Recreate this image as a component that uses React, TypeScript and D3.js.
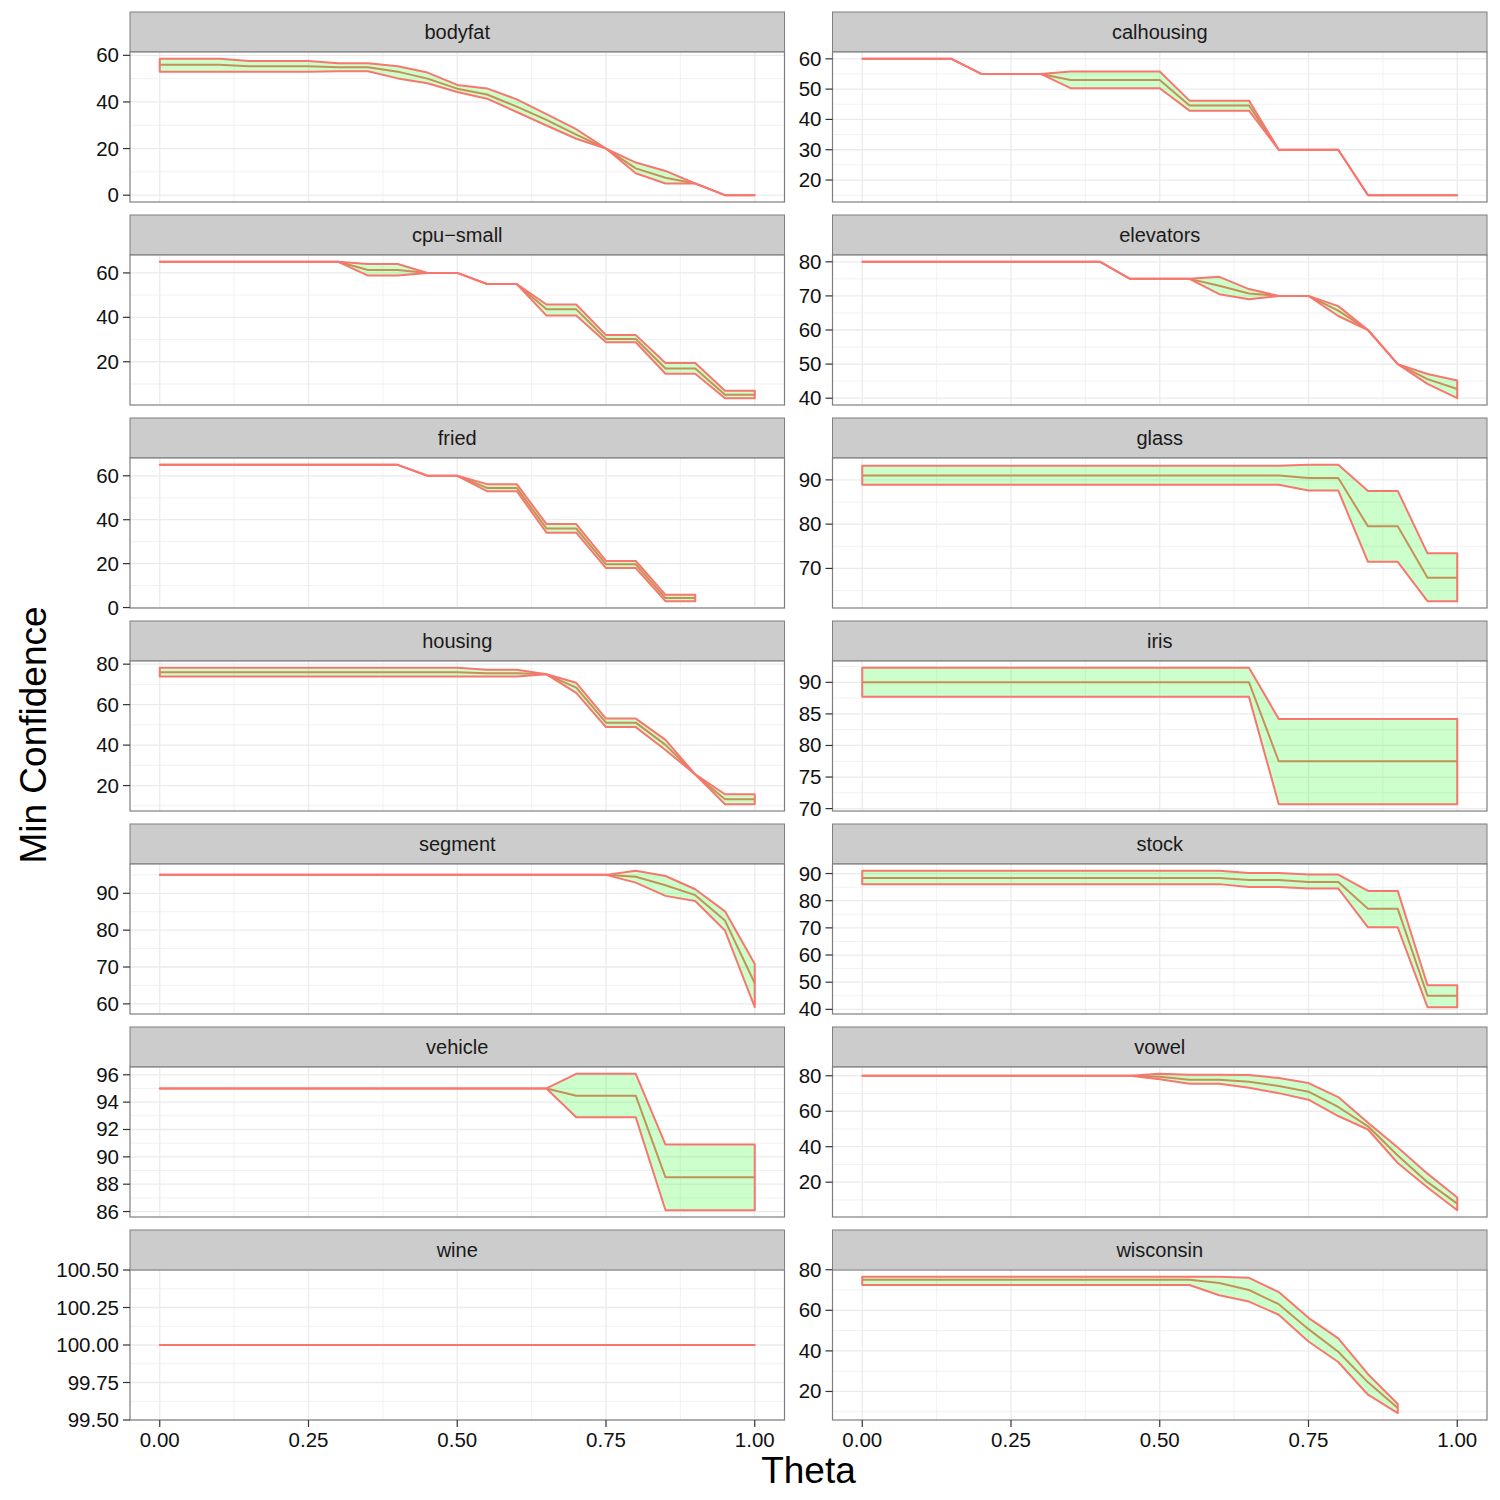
import React from "react";
import * as d3 from "d3";

// Theta grid shared by every dataset
const THETA = [0, 0.05, 0.1, 0.15, 0.2, 0.25, 0.3, 0.35, 0.4, 0.45, 0.5, 0.55, 0.6, 0.65, 0.7, 0.75, 0.8, 0.85, 0.9, 0.95, 1.0];

const X_TICKS = [0, 0.25, 0.5, 0.75, 1.0];
const X_MINOR = [0.125, 0.375, 0.625, 0.875];

// ---- per-dataset min confidence (upper / mean / lower) ----
const bodyfatUpper = [58.5, 58.5, 58.5, 57.6, 57.6, 57.6, 56.6, 56.6, 55.3, 52.6, 47.3, 45.8, 41.1, 34.8, 28.3, 20, 14, 10.4, 5, 0, 0];
const bodyfatMean = [56, 56, 56, 55.3, 55.3, 55.3, 54.9, 54.9, 53, 50, 45.7, 43.2, 38, 32.3, 26, 20, 11.5, 7.5, 5, 0, 0];
const bodyfatLower = [53, 53, 53, 53, 53, 53, 53.2, 53.2, 50.1, 48, 44.3, 41.4, 35.7, 29.9, 24.2, 20, 9.4, 5, 5, 0, 0];
const bodyfatTicks = [0, 20, 40, 60];

const calhousingUpper = [60, 60, 60, 60, 55, 55, 55, 55.8, 55.8, 55.8, 55.8, 46.2, 46.2, 46.2, 30, 30, 30, 15, 15, 15, 15];
const calhousingMean = [60, 60, 60, 60, 55, 55, 55, 53, 53, 53, 53, 44.6, 44.6, 44.6, 30, 30, 30, 15, 15, 15, 15];
const calhousingLower = [60, 60, 60, 60, 55, 55, 55, 50.3, 50.3, 50.3, 50.3, 42.9, 42.9, 42.9, 30, 30, 30, 15, 15, 15, 15];
const calhousingTicks = [20, 30, 40, 50, 60];

const cpuSmallUpper = [65, 65, 65, 65, 65, 65, 65, 64, 64, 60, 60, 55, 55, 45.8, 45.8, 32, 32, 19.4, 19.4, 6.9, 6.9];
const cpuSmallMean = [65, 65, 65, 65, 65, 65, 65, 61.3, 61.3, 60, 60, 55, 55, 43.6, 43.6, 30.3, 30.3, 17, 17, 5.2, 5.2];
const cpuSmallLower = [65, 65, 65, 65, 65, 65, 65, 58.8, 58.8, 60, 60, 55, 55, 40.8, 40.8, 28.8, 28.8, 14.6, 14.6, 3.6, 3.6];
const cpuSmallTicks = [20, 40, 60];

const elevatorsUpper = [80, 80, 80, 80, 80, 80, 80, 80, 80, 75, 75, 75, 75.6, 72, 70, 70, 67, 60, 50, 47.1, 45.2];
const elevatorsMean = [80, 80, 80, 80, 80, 80, 80, 80, 80, 75, 75, 75, 73, 70.7, 70, 70, 65.7, 60, 50, 45.6, 42.7];
const elevatorsLower = [80, 80, 80, 80, 80, 80, 80, 80, 80, 75, 75, 75, 70.5, 69, 70, 70, 64.1, 60, 50, 44.2, 40];
const elevatorsTicks = [40, 50, 60, 70, 80];

const friedUpper = [65, 65, 65, 65, 65, 65, 65, 65, 65, 60, 60, 56.2, 56.2, 38, 38, 21.2, 21.2, 5.8, 5.8];
const friedMean = [65, 65, 65, 65, 65, 65, 65, 65, 65, 60, 60, 54.5, 54.5, 36, 36, 19.7, 19.7, 4.3, 4.3];
const friedLower = [65, 65, 65, 65, 65, 65, 65, 65, 65, 60, 60, 53, 53, 34.1, 34.1, 18, 18, 2.9, 2.9];
const friedTicks = [0, 20, 40, 60];

const glassUpper = [93.2, 93.2, 93.2, 93.2, 93.2, 93.2, 93.2, 93.2, 93.2, 93.2, 93.2, 93.2, 93.2, 93.2, 93.2, 93.4, 93.4, 87.5, 87.5, 73.4, 73.4];
const glassMean = [91, 91, 91, 91, 91, 91, 91, 91, 91, 91, 91, 91, 91, 91, 91, 90.4, 90.4, 79.5, 79.5, 67.9, 67.9];
const glassLower = [88.9, 88.9, 88.9, 88.9, 88.9, 88.9, 88.9, 88.9, 88.9, 88.9, 88.9, 88.9, 88.9, 88.9, 88.9, 87.6, 87.6, 71.5, 71.5, 62.6, 62.6];
const glassTicks = [70, 80, 90];

const housingUpper = [78.2, 78.2, 78.2, 78.2, 78.2, 78.2, 78.2, 78.2, 78.2, 78.2, 78.2, 77.2, 77.2, 75, 70.8, 53.1, 53.1, 42.6, 25.5, 15.7, 15.7];
const housingMean = [76, 76, 76, 76, 76, 76, 76, 76, 76, 76, 76, 75.5, 75.5, 75, 68.4, 51.1, 51.1, 40.1, 25.5, 13.2, 13.2];
const housingLower = [73.9, 73.9, 73.9, 73.9, 73.9, 73.9, 73.9, 73.9, 73.9, 73.9, 73.9, 73.9, 73.9, 75, 65.8, 48.9, 48.9, 37.6, 25.5, 10.8, 10.8];
const housingTicks = [20, 40, 60, 80];

const irisUpper = [92.3, 92.3, 92.3, 92.3, 92.3, 92.3, 92.3, 92.3, 92.3, 92.3, 92.3, 92.3, 92.3, 92.3, 84.2, 84.2, 84.2, 84.2, 84.2, 84.2, 84.2];
const irisMean = [90, 90, 90, 90, 90, 90, 90, 90, 90, 90, 90, 90, 90, 90, 77.5, 77.5, 77.5, 77.5, 77.5, 77.5, 77.5];
const irisLower = [87.7, 87.7, 87.7, 87.7, 87.7, 87.7, 87.7, 87.7, 87.7, 87.7, 87.7, 87.7, 87.7, 87.7, 70.7, 70.7, 70.7, 70.7, 70.7, 70.7, 70.7];
const irisTicks = [70, 75, 80, 85, 90];

const segmentUpper = [95, 95, 95, 95, 95, 95, 95, 95, 95, 95, 95, 95, 95, 95, 95, 95, 96.1, 94.7, 91.1, 85.1, 70.8];
const segmentMean = [95, 95, 95, 95, 95, 95, 95, 95, 95, 95, 95, 95, 95, 95, 95, 95, 94.5, 92.2, 89.5, 82.6, 65.6];
const segmentLower = [95, 95, 95, 95, 95, 95, 95, 95, 95, 95, 95, 95, 95, 95, 95, 95, 92.9, 89.3, 87.9, 79.9, 59.1];
const segmentTicks = [60, 70, 80, 90];

const stockUpper = [91, 91, 91, 91, 91, 91, 91, 91, 91, 91, 91, 91, 91, 90.2, 90.2, 89.6, 89.6, 83.6, 83.6, 48.9, 48.9];
const stockMean = [88.4, 88.4, 88.4, 88.4, 88.4, 88.4, 88.4, 88.4, 88.4, 88.4, 88.4, 88.4, 88.4, 87.6, 87.6, 86.9, 86.9, 77, 77, 45, 45];
const stockLower = [86.1, 86.1, 86.1, 86.1, 86.1, 86.1, 86.1, 86.1, 86.1, 86.1, 86.1, 86.1, 86.1, 85, 85, 84.5, 84.5, 70.2, 70.2, 40.8, 40.8];
const stockTicks = [40, 50, 60, 70, 80, 90];

const vehicleUpper = [95, 95, 95, 95, 95, 95, 95, 95, 95, 95, 95, 95, 95, 95, 96.07, 96.07, 96.07, 90.9, 90.9, 90.9, 90.9];
const vehicleMean = [95, 95, 95, 95, 95, 95, 95, 95, 95, 95, 95, 95, 95, 95, 94.47, 94.47, 94.47, 88.5, 88.5, 88.5, 88.5];
const vehicleLower = [95, 95, 95, 95, 95, 95, 95, 95, 95, 95, 95, 95, 95, 95, 92.9, 92.9, 92.9, 86.1, 86.1, 86.1, 86.1];
const vehicleTicks = [86, 88, 90, 92, 94, 96];

const vowelUpper = [80, 80, 80, 80, 80, 80, 80, 80, 80, 80, 81.1, 80.6, 80.6, 80.5, 78.7, 75.9, 68, 53.5, 39.5, 24.8, 11.3];
const vowelMean = [80, 80, 80, 80, 80, 80, 80, 80, 80, 80, 79.4, 77.7, 77.7, 76.6, 74.2, 71, 62.4, 51.5, 35, 20, 7.9];
const vowelLower = [80, 80, 80, 80, 80, 80, 80, 80, 80, 80, 78, 75.5, 75.5, 73.2, 70.2, 66.5, 57.3, 49.7, 30.8, 17, 4.2];
const vowelTicks = [20, 40, 60, 80];

const wineUpper = [100, 100, 100, 100, 100, 100, 100, 100, 100, 100, 100, 100, 100, 100, 100, 100, 100, 100, 100, 100, 100];
const wineMean = [100, 100, 100, 100, 100, 100, 100, 100, 100, 100, 100, 100, 100, 100, 100, 100, 100, 100, 100, 100, 100];
const wineLower = [100, 100, 100, 100, 100, 100, 100, 100, 100, 100, 100, 100, 100, 100, 100, 100, 100, 100, 100, 100, 100];
const wineTicks = [99.5, 99.75, 100, 100.25, 100.5];

const wisconsinUpper = [76.5, 76.5, 76.5, 76.5, 76.5, 76.5, 76.5, 76.5, 76.5, 76.5, 76.5, 76.5, 76.5, 76, 69, 56.3, 46.2, 28.5, 13.8];
const wisconsinMean = [75, 75, 75, 75, 75, 75, 75, 75, 75, 75, 75, 75, 73.5, 70, 63, 50.7, 39.6, 24.5, 11.8];
const wisconsinLower = [72.5, 72.5, 72.5, 72.5, 72.5, 72.5, 72.5, 72.5, 72.5, 72.5, 72.5, 72.5, 67.4, 64.3, 57.8, 44.6, 34.5, 18.4, 9.3];
const wisconsinTicks = [20, 40, 60, 80];

type Facet = { name: string; upper: number[]; mean: number[]; lower: number[]; ticks: number[]; decimals: number };

const FACETS: Facet[] = [
  { name: "bodyfat", upper: bodyfatUpper, mean: bodyfatMean, lower: bodyfatLower, ticks: bodyfatTicks, decimals: 0 },
  { name: "calhousing", upper: calhousingUpper, mean: calhousingMean, lower: calhousingLower, ticks: calhousingTicks, decimals: 0 },
  { name: "cpu\u2212small", upper: cpuSmallUpper, mean: cpuSmallMean, lower: cpuSmallLower, ticks: cpuSmallTicks, decimals: 0 },
  { name: "elevators", upper: elevatorsUpper, mean: elevatorsMean, lower: elevatorsLower, ticks: elevatorsTicks, decimals: 0 },
  { name: "fried", upper: friedUpper, mean: friedMean, lower: friedLower, ticks: friedTicks, decimals: 0 },
  { name: "glass", upper: glassUpper, mean: glassMean, lower: glassLower, ticks: glassTicks, decimals: 0 },
  { name: "housing", upper: housingUpper, mean: housingMean, lower: housingLower, ticks: housingTicks, decimals: 0 },
  { name: "iris", upper: irisUpper, mean: irisMean, lower: irisLower, ticks: irisTicks, decimals: 0 },
  { name: "segment", upper: segmentUpper, mean: segmentMean, lower: segmentLower, ticks: segmentTicks, decimals: 0 },
  { name: "stock", upper: stockUpper, mean: stockMean, lower: stockLower, ticks: stockTicks, decimals: 0 },
  { name: "vehicle", upper: vehicleUpper, mean: vehicleMean, lower: vehicleLower, ticks: vehicleTicks, decimals: 0 },
  { name: "vowel", upper: vowelUpper, mean: vowelMean, lower: vowelLower, ticks: vowelTicks, decimals: 0 },
  { name: "wine", upper: wineUpper, mean: wineMean, lower: wineLower, ticks: wineTicks, decimals: 2 },
  { name: "wisconsin", upper: wisconsinUpper, mean: wisconsinMean, lower: wisconsinLower, ticks: wisconsinTicks, decimals: 0 },
];

// ---- layout ----
const W = 1500;
const H = 1500;
const COL_LEFT = [130, 832.5];
const PANEL_W = 654.5;
const TOP0 = 12;
const ROW_PITCH = 203;
const STRIP_H = 40;
const PANEL_H = 150;
const NROW = 7;

const FONT = "'Liberation Sans', Arial, Helvetica, sans-serif";
const RED = "#F8766D";
const GRID = "#EBEBEB";
const BORDER = "#7F7F7F";

function Panel({ facet, index }: { facet: Facet; index: number }) {
  const col = index % 2;
  const row = Math.floor(index / 2);
  const left = COL_LEFT[col];
  const top = TOP0 + row * ROW_PITCH;
  const pTop = top + STRIP_H;
  const pBottom = pTop + PANEL_H;

  const x = d3.scaleLinear().domain([-0.05, 1.05]).range([left, left + PANEL_W]);
  const lo = d3.min(facet.lower) as number;
  const hi = d3.max(facet.upper) as number;
  const span = hi - lo;
  const dom = span > 0 ? [lo - 0.05 * span, hi + 0.05 * span] : [lo - 0.5, hi + 0.5];
  const y = d3.scaleLinear().domain(dom).range([pBottom, pTop]);

  const ticks = facet.ticks;
  const step = ticks[1] - ticks[0];
  const minor: number[] = [];
  const cand = [ticks[0] - step / 2, ...ticks.slice(0, -1).map((t) => t + step / 2), ticks[ticks.length - 1] + step / 2];
  cand.forEach((m) => {
    if (m >= dom[0] && m <= dom[1]) minor.push(m);
  });

  const n = facet.mean.length;
  const idx = d3.range(n);
  const area = d3
    .area<number>()
    .x((i) => x(THETA[i]))
    .y0((i) => y(facet.lower[i]))
    .y1((i) => y(facet.upper[i]));
  const line = d3
    .line<number>()
    .x((i) => x(THETA[i]))
    .y((i) => y(facet.mean[i]));

  const fmt = facet.decimals > 0 ? d3.format(".2f") : d3.format("d");
  const isBottom = row === NROW - 1;

  return (
    <g>
      {/* strip */}
      <rect x={left} y={top} width={PANEL_W} height={STRIP_H} fill="#CCCCCC" stroke={BORDER} strokeWidth={1} />
      <text x={left + PANEL_W / 2} y={top + 27} textAnchor="middle" fontFamily={FONT} fontSize={20} fill="#1A1A1A">
        {facet.name}
      </text>
      {/* panel background and grid */}
      <rect x={left} y={pTop} width={PANEL_W} height={PANEL_H} fill="#FFFFFF" />
      {X_MINOR.map((t) => (
        <line key={"xm" + t} x1={x(t)} x2={x(t)} y1={pTop} y2={pBottom} stroke={GRID} strokeWidth={0.7} />
      ))}
      {minor.map((v) => (
        <line key={"ym" + v} x1={left} x2={left + PANEL_W} y1={y(v)} y2={y(v)} stroke={GRID} strokeWidth={0.7} />
      ))}
      {X_TICKS.map((t) => (
        <line key={"xg" + t} x1={x(t)} x2={x(t)} y1={pTop} y2={pBottom} stroke={GRID} strokeWidth={1.3} />
      ))}
      {ticks.map((v) => (
        <line key={"yg" + v} x1={left} x2={left + PANEL_W} y1={y(v)} y2={y(v)} stroke={GRID} strokeWidth={1.3} />
      ))}
      {/* mean line, then the band over it */}
      <path d={line(idx) || ""} fill="none" stroke={RED} strokeWidth={2} strokeLinejoin="round" />
      <path d={area(idx) || ""} fill="rgba(0,255,0,0.2)" stroke={RED} strokeWidth={2} strokeLinejoin="round" />
      {/* border */}
      <rect x={left} y={pTop} width={PANEL_W} height={PANEL_H} fill="none" stroke={BORDER} strokeWidth={1.2} />
      {/* y axis */}
      {ticks.map((v) => (
        <g key={"yt" + v}>
          <line x1={left - 7} x2={left} y1={y(v)} y2={y(v)} stroke="#333333" strokeWidth={1.2} />
          <text x={left - 11} y={y(v) + 7} textAnchor="end" fontFamily={FONT} fontSize={20.5} fill="#111111">
            {fmt(v)}
          </text>
        </g>
      ))}
      {/* x axis only on the bottom row */}
      {isBottom &&
        X_TICKS.map((t) => (
          <g key={"xt" + t}>
            <line x1={x(t)} x2={x(t)} y1={pBottom} y2={pBottom + 7} stroke="#333333" strokeWidth={1.2} />
            <text x={x(t)} y={pBottom + 27} textAnchor="middle" fontFamily={FONT} fontSize={20.5} fill="#111111">
              {d3.format(".2f")(t)}
            </text>
          </g>
        ))}
    </g>
  );
}

export default function App() {
  return (
    <svg
      width={W}
      height={H}
      viewBox={`0 0 ${W} ${H}`}
      style={{ position: "absolute", left: 0, top: 0, background: "#FFFFFF" }}
    >
      <rect x={0} y={0} width={W} height={H} fill="#FFFFFF" />
      {FACETS.map((f, i) => (
        <Panel key={f.name} facet={f} index={i} />
      ))}
      <text x={808.5} y={1483} textAnchor="middle" fontFamily={FONT} fontSize={37} fill="#000000">
        Theta
      </text>
      <text
        transform="translate(46,735) rotate(-90)"
        textAnchor="middle"
        fontFamily={FONT}
        fontSize={37}
        fill="#000000"
      >
        Min Confidence
      </text>
    </svg>
  );
}
